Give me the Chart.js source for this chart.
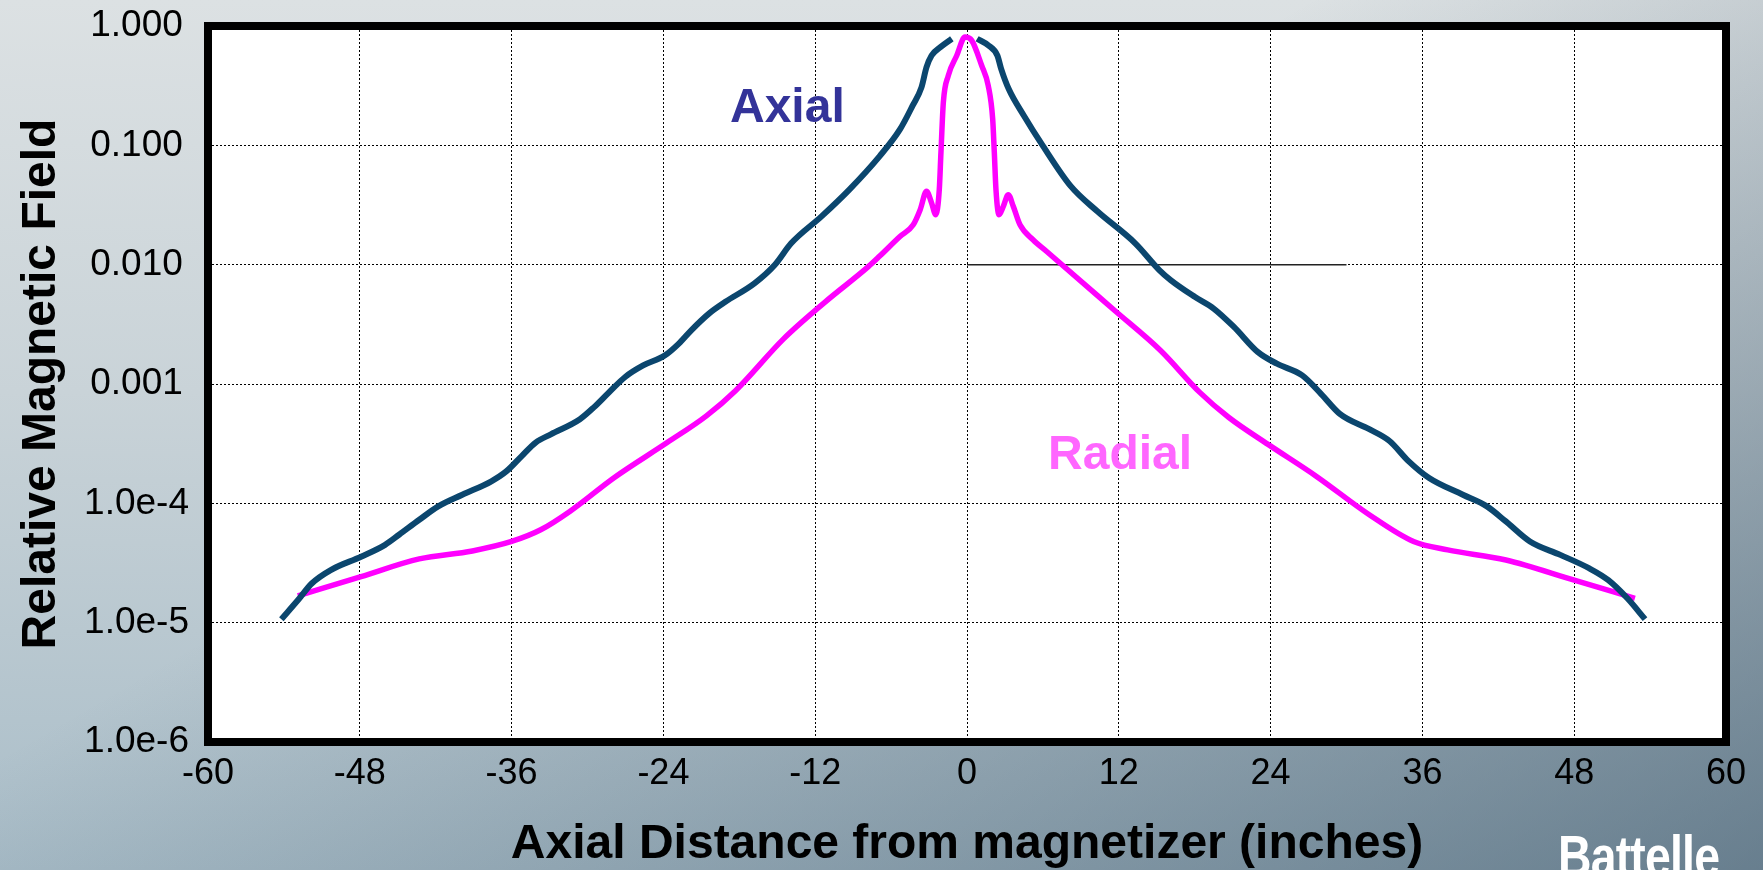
<!DOCTYPE html>
<html lang="en">
<head>
    <meta charset="UTF-8">
    <title>Relative Magnetic Field vs Axial Distance</title>
    <script src="https://cdn.jsdelivr.net/npm/chart.js"></script>
    <style>
        html, body {
            margin: 0;
            padding: 0;
        }
        body {
            width: 1763px;
            height: 870px;
            overflow: hidden;
            position: relative;
            background:
                linear-gradient(150deg, rgba(50, 75, 95, 0) 40%, rgba(50, 75, 95, 0.55) 100%),
                linear-gradient(to bottom, #dce1e3 0%, #c9d3d8 45%, #a9bdc8 100%);
            font-family: 'Liberation Sans', Arial, sans-serif;
        }
        #fieldChart {
            position: absolute;
            left: 0;
            top: 0;
        }
        .logo {
            position: absolute;
            left: 1558px;
            top: 822px;
            color: #fff;
            font-weight: bold;
            font-size: 58px;
            letter-spacing: -1px;
            transform: scaleX(0.8);
            transform-origin: left top;
        }
    </style>
</head>
<body>
    <canvas id="fieldChart" width="1763" height="870"></canvas>
    <div class="logo">Battelle</div>

    <script>
        // Axial field (gap at the magnetizer, x = 0)
        const axialX = [-54.2, -52.9, -51.8, -50.3, -47.9, -46.0, -44.9, -43.3, -41.8, -39.9,
            -37.6, -36.4, -35.2, -34.1, -32.9, -30.6, -29.5, -28.3, -27.0, -25.6,
            -23.9, -22.8, -21.8, -20.4, -19.1, -16.8, -15.2, -13.9, -11.5, -9.3,
            -6.9, -5.3, -4.3, -3.6, -3.2, -2.8, -2.1, -1.2, 0,
            0.8, 1.7, 2.4, 2.7, 3.3, 4.5, 6.0, 8.2, 10.3, 13.3,
            15.2, 16.1, 18.0, 19.5, 21.1, 23.0, 24.5, 26.5, 28.0, 29.5,
            31.8, 33.4, 34.9, 36.5, 39.2, 41.1, 42.6, 44.5, 46.9, 49.2,
            50.7, 52.2, 53.6];
        const axialY = [1.07e-5, 1.54e-5, 2.13e-5, 2.76e-5, 3.57e-5, 4.49e-5, 5.45e-5, 7.28e-5, 9.43e-5, 1.18e-4,
            1.53e-4, 1.86e-4, 2.49e-4, 3.23e-4, 3.79e-4, 5.07e-4, 6.37e-4, 8.51e-4, 1.15e-3, 1.43e-3,
            1.73e-3, 2.17e-3, 2.82e-3, 3.89e-3, 4.88e-3, 6.97e-3, 9.93e-3, 1.51e-2, 2.54e-2, 4.26e-2,
            8.13e-2, 0.136, 0.215, 0.306, 0.452, 0.566, 0.665, 0.782, null,
            0.782, 0.687, 0.566, 0.437, 0.296, 0.177, 9.89e-2, 4.55e-2, 2.80e-2, 1.51e-2,
            9.02e-3, 7.43e-3, 5.38e-3, 4.29e-3, 3.01e-3, 1.85e-3, 1.48e-3, 1.18e-3, 8.24e-4, 5.59e-4,
            4.18e-4, 3.33e-4, 2.26e-4, 1.64e-4, 1.18e-4, 9.43e-5, 7.05e-5, 4.79e-5, 3.70e-5, 2.85e-5,
            2.27e-5, 1.60e-5, 1.07e-5];

        // Radial field
        const radialX = [-52.9, -47.9, -43.3, -39.1, -36.0, -33.7, -31.4, -27.9, -23.7, -20.6,
            -18.3, -14.5, -11.2, -7.8, -6.9, -5.3, -4.25, -3.7, -3.2, -2.8,
            -2.47, -2.19, -2.06, -1.87, -1.48, -0.81, -0.16, 0.37, 1.16, 1.68,
            2.03, 2.16, 2.29, 2.53, 2.87, 3.26, 3.66, 4.19, 5.24, 6.3,
            11.65, 15.3, 18.4, 20.7, 23.8, 27.6, 31.8, 35.3, 38.0, 42.6,
            48.0, 52.8];
        const radialY = [1.68e-5, 2.43e-5, 3.42e-5, 3.99e-5, 4.79e-5, 6.00e-5, 8.55e-5, 1.64e-4, 3.23e-4, 5.41e-4,
            8.79e-4, 2.39e-3, 4.88e-3, 9.62e-3, 1.18e-2, 1.72e-2, 2.16e-2, 2.89e-2, 4.12e-2, 3.29e-2,
            2.62e-2, 4.26e-2, 8.67e-2, 0.229, 0.384, 0.566, 0.808, 0.758, 0.467, 0.316,
            0.166, 8.67e-2, 4.26e-2, 2.62e-2, 3.08e-2, 3.86e-2, 3.08e-2, 2.16e-2, 1.61e-2, 1.29e-2,
            4.15e-3, 1.91e-3, 8.51e-4, 5.24e-4, 3.12e-4, 1.69e-4, 8.03e-5, 4.79e-5, 4.07e-5, 3.35e-5,
            2.27e-5, 1.60e-5];

        // thin reference line drawn at the 0.010 level
        const refLineX = [0, 30];
        const refLineY = [0.01, 0.01];

        const yTickValues = [1e-6, 1e-5, 1e-4, 1e-3, 1e-2, 1e-1, 1];
        const yTickLabels = ['1.0e-6', '1.0e-5', '1.0e-4', '0.001', '0.010', '0.100', '1.000'];

        // in-plot series names
        const curveNames = ['Axial', 'Radial'];
        const curveNameX = [-14.2, 12.1];
        const curveNameY = [0.204, 2.52e-4];
        const curveNameColors = ['#333399', '#ff66ff'];

        const toPoints = (xs, ys) => xs.map((x, i) => ({ x: x, y: ys[i] }));

        const fontFamily = "'Liberation Sans', Arial, sans-serif";
        Chart.defaults.color = '#000';
        Chart.defaults.font.family = fontFamily;

        // white plot background, black frame and the curve names
        const plotFrame = {
            id: 'plotFrame',
            beforeDraw(chart) {
                const { ctx, chartArea } = chart;
                ctx.save();
                ctx.fillStyle = '#fff';
                ctx.fillRect(chartArea.left, chartArea.top, chartArea.width, chartArea.height);
                ctx.restore();
            },
            afterDatasetsDraw(chart) {
                const { ctx, scales } = chart;
                ctx.save();
                ctx.font = 'bold 48px ' + fontFamily;
                ctx.textAlign = 'center';
                ctx.textBaseline = 'middle';
                curveNames.forEach((name, i) => {
                    ctx.fillStyle = curveNameColors[i];
                    ctx.fillText(name, scales.x.getPixelForValue(curveNameX[i]), scales.y.getPixelForValue(curveNameY[i]));
                });
                ctx.restore();
            },
            afterDraw(chart) {
                const { ctx, chartArea } = chart;
                ctx.save();
                ctx.strokeStyle = '#000';
                ctx.lineWidth = 8;
                ctx.strokeRect(chartArea.left, chartArea.top, chartArea.width, chartArea.height);
                ctx.restore();
            }
        };

        const ctx = document.getElementById('fieldChart').getContext('2d');
        const fieldChart = new Chart(ctx, {
            type: 'line',
            data: {
                datasets: [
                    {
                        label: 'Axial',
                        data: toPoints(axialX, axialY),
                        borderColor: '#0b466e',
                        borderWidth: 6,
                        pointRadius: 0,
                        cubicInterpolationMode: 'monotone',
                        spanGaps: false
                    },
                    {
                        label: 'Radial',
                        data: toPoints(radialX, radialY),
                        borderColor: '#ff00ff',
                        borderWidth: 5.5,
                        pointRadius: 0,
                        cubicInterpolationMode: 'monotone'
                    },
                    {
                        label: 'ref',
                        data: toPoints(refLineX, refLineY),
                        borderColor: '#222',
                        borderWidth: 1.5,
                        pointRadius: 0
                    }
                ]
            },
            options: {
                responsive: false,
                animation: false,
                layout: {
                    padding: { left: 0, right: 37, top: 26, bottom: 0 }
                },
                plugins: {
                    legend: { display: false },
                    tooltip: { enabled: false }
                },
                scales: {
                    x: {
                        type: 'linear',
                        min: -60,
                        max: 60,
                        afterFit: (scale) => { scale.height = 128; },
                        ticks: {
                            stepSize: 12,
                            maxRotation: 0,
                            autoSkip: false,
                            padding: 10,
                            font: { size: 36 }
                        },
                        grid: {
                            color: '#000',
                            lineWidth: 1,
                            drawTicks: false
                        },
                        border: { display: false, dash: [2, 2] },
                        title: {
                            display: true,
                            text: 'Axial Distance from magnetizer (inches)',
                            font: { size: 48, weight: 'bold' },
                            padding: { top: 0, bottom: -4 }
                        }
                    },
                    y: {
                        type: 'logarithmic',
                        min: 1e-6,
                        max: 1,
                        afterFit: (scale) => { scale.width = 208; },
                        afterBuildTicks: (scale) => {
                            scale.ticks = yTickValues.map(v => ({ value: v }));
                        },
                        ticks: {
                            crossAlign: 'center',
                            padding: 0,
                            font: { size: 37 },
                            callback: (value, index) => yTickLabels[index]
                        },
                        grid: {
                            color: '#000',
                            lineWidth: 1,
                            // invisible tick marks keep the labels off the frame
                            drawTicks: true,
                            tickLength: 19,
                            tickColor: 'rgba(0, 0, 0, 0)'
                        },
                        border: { display: false, dash: [2, 2] },
                        title: {
                            display: true,
                            text: 'Relative Magnetic Field',
                            font: { size: 48, weight: 'bold' },
                            padding: { top: 13, bottom: 0 }
                        }
                    }
                }
            },
            plugins: [plotFrame]
        });
    </script>
</body>
</html>
